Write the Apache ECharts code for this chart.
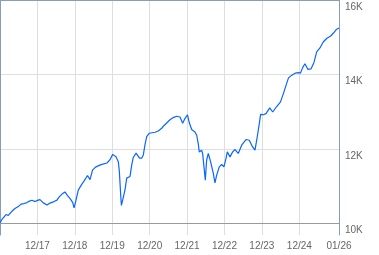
<!DOCTYPE html>
<html>
<head>
<meta charset="utf-8">
<script src="https://cdn.jsdelivr.net/npm/echarts@6/dist/echarts.min.js"></script>
<style>
html,body{margin:0;padding:0;background:#fff;}
#c{width:379px;height:255px;}
</style>
</head>
<body>
<div id="c"></div>
<script>
const dates = ['2016-12-31','2017-01-17','2017-02-28','2017-03-22','2017-04-24','2017-05-26','2017-06-28','2017-07-24','2017-08-22','2017-09-21','2017-10-15','2017-11-08','2017-12-08',
'2018-01-01','2018-01-25','2018-02-27','2018-04-04','2018-05-03','2018-06-11','2018-07-10','2018-07-30','2018-08-28','2018-09-26','2018-10-21','2018-11-19','2018-12-11','2018-12-24',
'2019-01-12','2019-02-03','2019-03-07','2019-03-31','2019-05-04','2019-05-29','2019-06-22','2019-07-21','2019-09-13','2019-11-10','2019-12-10',
'2020-01-05','2020-02-06','2020-02-29','2020-03-10','2020-03-23','2020-03-30','2020-04-12','2020-05-04','2020-05-21','2020-06-02','2020-06-22','2020-07-09','2020-07-24','2020-08-20','2020-09-05','2020-09-23','2020-10-14','2020-10-30','2020-11-15','2020-12-02','2020-12-27',
'2021-02-21','2021-03-25','2021-04-27','2021-05-13','2021-06-15','2021-07-17','2021-08-18','2021-09-20','2021-10-23','2021-11-18','2021-12-10',
'2022-01-04','2022-01-22','2022-02-14','2022-03-18','2022-04-04','2022-04-19','2022-04-29','2022-05-22','2022-06-01','2022-06-14','2022-06-27','2022-07-10','2022-07-26','2022-08-18','2022-09-13','2022-09-29','2022-10-16','2022-11-10','2022-12-04','2022-12-26',
'2023-01-15','2023-01-28','2023-02-23','2023-03-21','2023-04-13','2023-05-15','2023-06-17','2023-07-29','2023-08-30','2023-10-02','2023-10-25','2023-11-16','2023-12-06','2023-12-19',
'2024-01-14','2024-02-09','2024-03-17','2024-04-15','2024-05-20','2024-06-30','2024-07-29','2024-08-26','2024-09-16','2024-10-15','2024-10-30','2024-11-23','2024-12-21',
'2025-01-11','2025-02-04','2025-02-24','2025-03-25','2025-04-23','2025-05-23','2025-06-18','2025-07-20','2025-08-21','2025-09-23','2025-11-02','2025-11-29','2025-12-26','2026-01-22'];
const values = [10000,10096,10236,10214,10316,10397,10450,10517,10531,10557,10598,10619,10584,
10616,10638,10549,10490,10544,10584,10624,10705,10785,10844,10745,10651,10557,10415,
10624,10892,11040,11134,11286,11174,11428,11509,11576,11621,11710,
11852,11790,11656,11394,10766,10482,10632,10900,11214,11260,11260,11570,11769,11884,11857,11750,11750,11838,12106,12332,12420,
12447,12482,12554,12608,12696,12782,12841,12876,12857,12691,12814,
12916,12701,12519,12455,12366,12144,11919,11964,11876,11517,11160,11696,11876,11651,11340,11088,11294,11517,11581,11517,
11742,11919,11785,11919,11983,11876,12098,12251,12232,12053,11964,12321,12680,12929,
12916,12948,13103,12991,13125,13264,13492,13733,13907,13974,13921,14036,14047,
14036,14197,14288,14135,14149,14323,14604,14711,14872,14966,15033,15113,15207,15247];
const xTickDates = ['2017-12-31','2018-12-31','2019-12-31','2020-12-31','2021-12-31','2022-12-31','2023-12-31','2024-12-31','2026-01-22'];
const yTicks = [10000,12000,14000,16000];
const xStart = '2016-12-31', xEnd = '2026-01-22';

function ts(s){const p=s.split('-');return new Date(+p[0],+p[1]-1,+p[2]).getTime();}
const xTickVals = xTickDates.map(ts);
const frameColor = '#8a9cba';
const font = "'Liberation Sans', Arial, sans-serif";

const chart = echarts.init(document.getElementById('c'), null, {renderer:'canvas'});
chart.setOption({
  animation:false,
  grid:{left:0,top:0,width:339,height:235,containLabel:false},
  xAxis:[{
    type:'value', min:ts(xStart), max:ts(xEnd),
    axisLine:{show:false}, axisTick:{show:false, customValues:xTickVals},
    axisLabel:{customValues:xTickVals, color:'#666', fontSize:10, fontFamily:font, margin:6,
      formatter:function(v){const d=new Date(v);const m=d.getMonth()+1;const y=d.getFullYear()%100;return (m<10?'0':'')+m+'/'+(y<10?'0':'')+y;}},
    splitLine:{show:true, lineStyle:{color:'#dedede',width:1}}
  },{
    type:'value', position:'top', min:ts(xStart), max:ts(xEnd),
    axisLine:{show:true, lineStyle:{color:frameColor,width:1}},
    axisTick:{show:false}, axisLabel:{show:false}, splitLine:{show:false}
  }],
  yAxis:[{
    type:'value', position:'right', min:9686, max:16000,
    axisLine:{show:true, lineStyle:{color:frameColor,width:1}},
    axisTick:{show:false, customValues:yTicks},
    axisLabel:{customValues:yTicks, color:'#666', fontSize:10, fontFamily:font, margin:6, verticalAlign:'top',
      padding:[2,0,0,0],
      formatter:function(v){return (v/1000)+'K';}},
    splitLine:{show:true, lineStyle:{color:'#dedede',width:1}}
  },{
    type:'value', position:'left', min:9686, max:16000,
    axisLine:{show:true, lineStyle:{color:frameColor,width:1}},
    axisTick:{show:false}, axisLabel:{show:false}, splitLine:{show:false}
  }],
  series:[{
    type:'line', xAxisIndex:0, yAxisIndex:0,
    data: dates.map((d,i)=>[ts(d), values[i]]),
    showSymbol:false, symbol:'none',
    lineStyle:{color:'#0a66ff', width:1.2},
    markLine:{silent:true, symbol:'none', label:{show:false},
      lineStyle:{color:'#9a9a9a', type:'solid', width:1},
      data:[{yAxis:10000}]}
  }]
});
</script>
</body>
</html>
